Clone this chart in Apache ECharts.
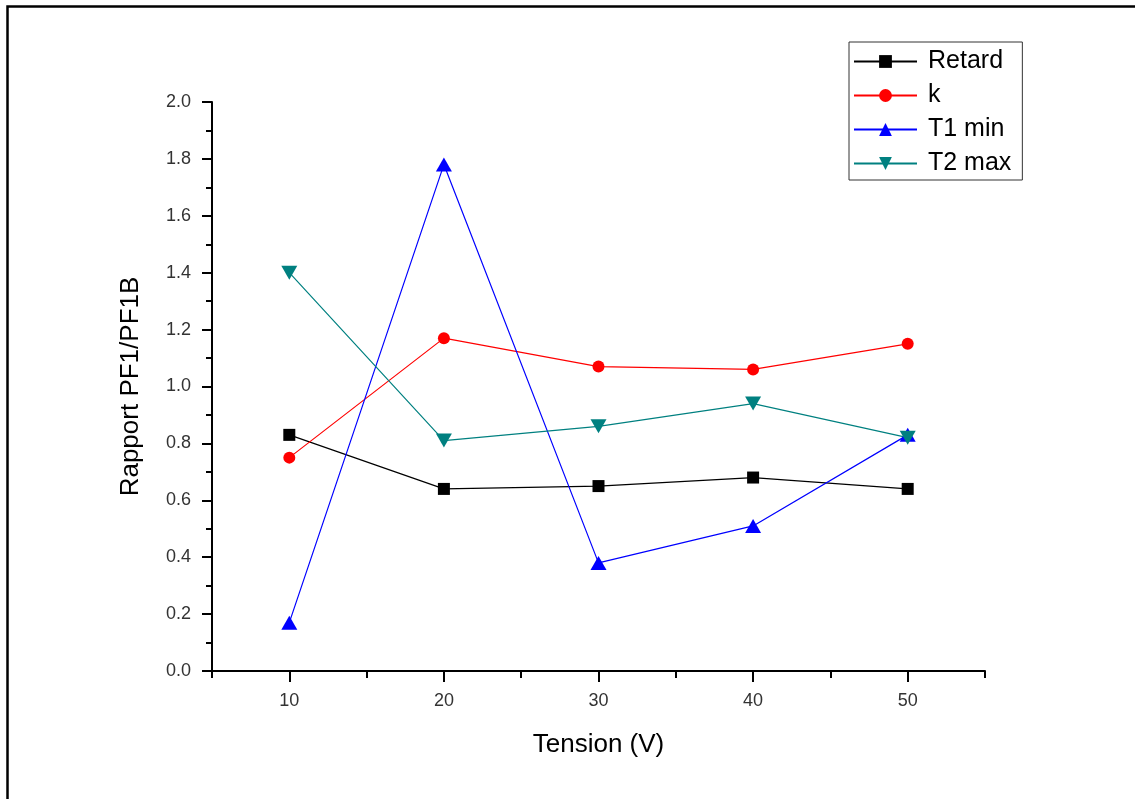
<!DOCTYPE html>
<html>
<head>
<meta charset="utf-8">
<script src="https://cdn.jsdelivr.net/npm/echarts@6/dist/echarts.min.js"></script>
<style>
html,body{margin:0;padding:0;background:#fff;}
#chart{width:1135px;height:799px;}
</style>
</head>
<body>
<div id="chart"></div>
<script>
const tension = [10, 20, 30, 40, 50];
const retard = [0.83, 0.64, 0.65, 0.68, 0.64];
const kVals = [0.75, 1.17, 1.07, 1.06, 1.15];
const t1min = [0.17, 1.78, 0.38, 0.51, 0.83];
const t2max = [1.40, 0.81, 0.86, 0.94, 0.82];
const xMajorTicks = [10, 20, 30, 40, 50];
const xMinorTicks = [5, 15, 25, 35, 45, 55];
const seriesNames = ['Retard', 'k', 'T1 min', 'T2 max'];

const font = 'Arial, "Liberation Sans", sans-serif';
function pairs(vals) { return tension.map((t, i) => [t, vals[i]]); }

const chart = echarts.init(document.getElementById('chart'), null, {renderer: 'canvas'});
const mk = (name, vals, color, symbol, size) => ({
  name: name, type: 'line', data: pairs(vals),
  symbol: symbol, symbolSize: size,
  lineStyle: {color: color, width: 1.2},
  itemStyle: {color: color},
  emphasis: {disabled: true},
  animation: false, z: 3
});

chart.setOption({
  backgroundColor: '#fff',
  animation: false,
  graphic: [{
    type: 'rect', silent: true, z: 0,
    shape: {x: 7.5, y: 6.5, width: 1300, height: 1000},
    style: {fill: 'none', stroke: '#000', lineWidth: 2.5}
  }],
  grid: {left: 212, right: 150, top: 102, bottom: 128, containLabel: false},
  legend: {
    orient: 'vertical', left: 849, top: 42,
    data: seriesNames,
    borderColor: '#333', borderWidth: 1, borderRadius: 0,
    padding: [7, 11, 4, 4],
    itemWidth: 63, itemHeight: 16, itemGap: 9,
    textStyle: {fontFamily: font, fontSize: 25, color: '#000', padding: [0, 0, 0, 6]},
    selectedMode: false
  },
  xAxis: [{
    type: 'value', min: 5, max: 55,
    name: 'Tension (V)', nameLocation: 'middle', nameGap: 61,
    nameTextStyle: {fontFamily: font, fontSize: 26, color: '#000'},
    axisLine: {show: true, lineStyle: {color: '#000', width: 2}},
    axisTick: {show: true, inside: false, length: 11, customValues: xMajorTicks, lineStyle: {color: '#000', width: 2}},
    axisLabel: {show: true, customValues: xMajorTicks, margin: 21, fontFamily: font, fontSize: 18, color: '#333'},
    splitLine: {show: false}
  }, {
    type: 'value', min: 5, max: 55, position: 'bottom',
    axisLine: {show: false},
    axisTick: {show: true, inside: false, length: 7, customValues: xMinorTicks, lineStyle: {color: '#000', width: 2}},
    axisLabel: {show: false},
    splitLine: {show: false}
  }],
  yAxis: {
    type: 'value', min: 0, max: 2, interval: 0.2,
    name: 'Rapport PF1/PF1B', nameLocation: 'middle', nameGap: 68,
    nameTextStyle: {fontFamily: font, fontSize: 26, color: '#000'},
    axisLine: {show: true, lineStyle: {color: '#000', width: 2}},
    axisTick: {show: true, inside: false, length: 10, lineStyle: {color: '#000', width: 2}},
    minorTick: {show: true, splitNumber: 2, length: 6, lineStyle: {color: '#000', width: 2}},
    axisLabel: {margin: 21, fontFamily: font, fontSize: 18, color: '#333', formatter: v => v.toFixed(1)},
    splitLine: {show: false}
  },
  series: [
    mk(seriesNames[0], retard, '#000000', 'rect', 12),
    mk(seriesNames[1], kVals, '#ff0000', 'circle', 12),
    mk(seriesNames[2], t1min, '#0000ff', 'triangle', [16, 14]),
    mk(seriesNames[3], t2max, '#008080', 'path://M0,0L2,0L1,1.732Z', [16, 14])
  ]
});
</script>
</body>
</html>
